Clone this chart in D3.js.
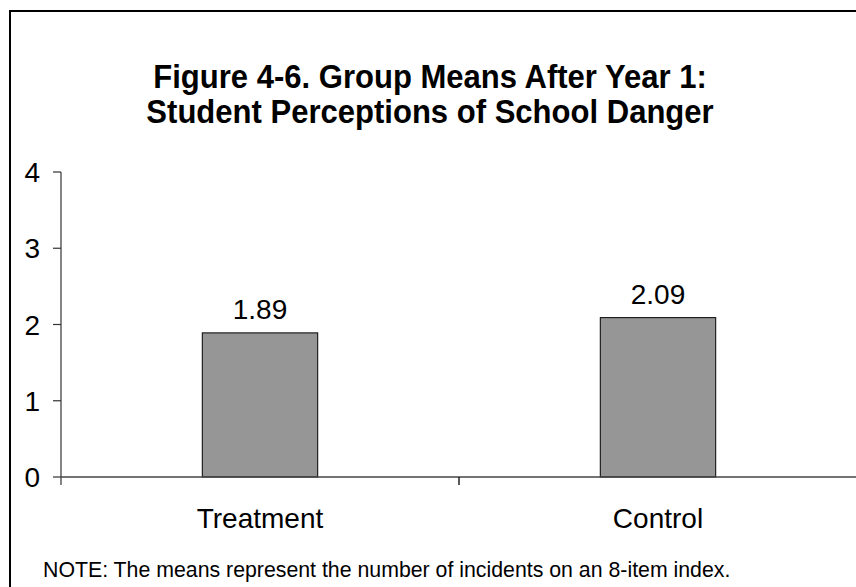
<!DOCTYPE html>
<html>
<head>
<meta charset="utf-8">
<script src="https://cdn.jsdelivr.net/npm/d3@7/dist/d3.min.js"></script>
<style>
  html, body { margin: 0; padding: 0; background: #fff; }
  svg { display: block; font-family: "Liberation Sans", Arial, sans-serif; }
</style>
</head>
<body>
<svg id="chart" width="856" height="587"></svg>
<script>
// Group means after year 1
const categories = ["Treatment", "Control"];
const means = [1.89, 2.09];
const yTicks = [0, 1, 2, 3, 4];
const titleLines = [
  "Figure 4-6. Group Means After Year 1:",
  "Student Perceptions of School Danger"
];
const note = "NOTE: The means represent the number of incidents on an 8-item index.";

const svg = d3.select("#chart");
const W = 856, H = 587;

// Outer frame (runs off the right and bottom edges)
svg.append("rect")
  .attr("x", 10).attr("y", 11)
  .attr("width", W + 20).attr("height", H + 20)
  .attr("fill", "#fff").attr("stroke", "#000").attr("stroke-width", 2);

// Title: tall, slightly condensed bold lettering
const titleX = 430, squeeze = 0.913;
svg.append("g")
  .attr("transform", `translate(${titleX},0) scale(${squeeze},1)`)
  .selectAll("text")
  .data(titleLines).join("text")
  .attr("x", 0)
  .attr("y", (d, i) => 88 + i * 35)
  .attr("text-anchor", "middle")
  .attr("font-size", 34).attr("font-weight", "bold")
  .attr("fill", "#000")
  .text(d => d);

// Scales
const plotLeft = 61, plotRight = 857;
const x = d3.scaleBand().domain(categories).range([plotLeft, plotRight]).padding(0);
const y = d3.scaleLinear().domain([0, 4]).range([477, 172]);
const barW = x.bandwidth() * 0.29;

// Bars
svg.append("g").selectAll("rect")
  .data(categories).join("rect")
  .attr("x", (d) => x(d) + x.bandwidth() / 2 - barW / 2)
  .attr("y", (d, i) => y(means[i]))
  .attr("width", barW)
  .attr("height", (d, i) => y(0) - y(means[i]))
  .attr("fill", "#969696")
  .attr("stroke", "#000").attr("stroke-width", 1);

// Value labels
svg.append("g").selectAll("text")
  .data(categories).join("text")
  .attr("x", d => x(d) + x.bandwidth() / 2)
  .attr("y", (d, i) => y(means[i]) - 14)
  .attr("text-anchor", "middle")
  .attr("font-size", 28)
  .attr("fill", "#000")
  .text((d, i) => d3.format(".2f")(means[i]));

// Y axis
const yAxis = svg.append("g");
yAxis.append("line")
  .attr("x1", plotLeft).attr("x2", plotLeft)
  .attr("y1", y(4)).attr("y2", y(0) + 8)
  .attr("stroke", "#333").attr("stroke-width", 1.2);
yAxis.selectAll("line.tick").data(yTicks).join("line")
  .attr("class", "tick")
  .attr("x1", plotLeft - 8).attr("x2", plotLeft)
  .attr("y1", d => y(d)).attr("y2", d => y(d))
  .attr("stroke", "#333").attr("stroke-width", 1.2);
yAxis.selectAll("text").data(yTicks).join("text")
  .attr("x", 40)
  .attr("y", d => y(d) + 10)
  .attr("text-anchor", "end")
  .attr("font-size", 28)
  .attr("fill", "#000")
  .text(d => d);

// X axis with ticks at category boundaries
const xAxis = svg.append("g");
xAxis.append("line")
  .attr("x1", plotLeft).attr("x2", plotRight)
  .attr("y1", y(0)).attr("y2", y(0))
  .attr("stroke", "#444").attr("stroke-width", 1.5);
const bounds = categories.slice(1).map(d => x(d));
xAxis.selectAll("line.tick").data(bounds).join("line")
  .attr("class", "tick")
  .attr("x1", d => d).attr("x2", d => d)
  .attr("y1", y(0)).attr("y2", y(0) + 8)
  .attr("stroke", "#222").attr("stroke-width", 1.5);
xAxis.selectAll("text").data(categories).join("text")
  .attr("x", d => x(d) + x.bandwidth() / 2)
  .attr("y", 528)
  .attr("text-anchor", "middle")
  .attr("font-size", 28)
  .attr("fill", "#000")
  .text(d => d);

// Footnote
svg.append("text")
  .attr("x", 43).attr("y", 577)
  .attr("font-size", 21.3)
  .attr("fill", "#000")
  .text(note);
</script>
</body>
</html>
